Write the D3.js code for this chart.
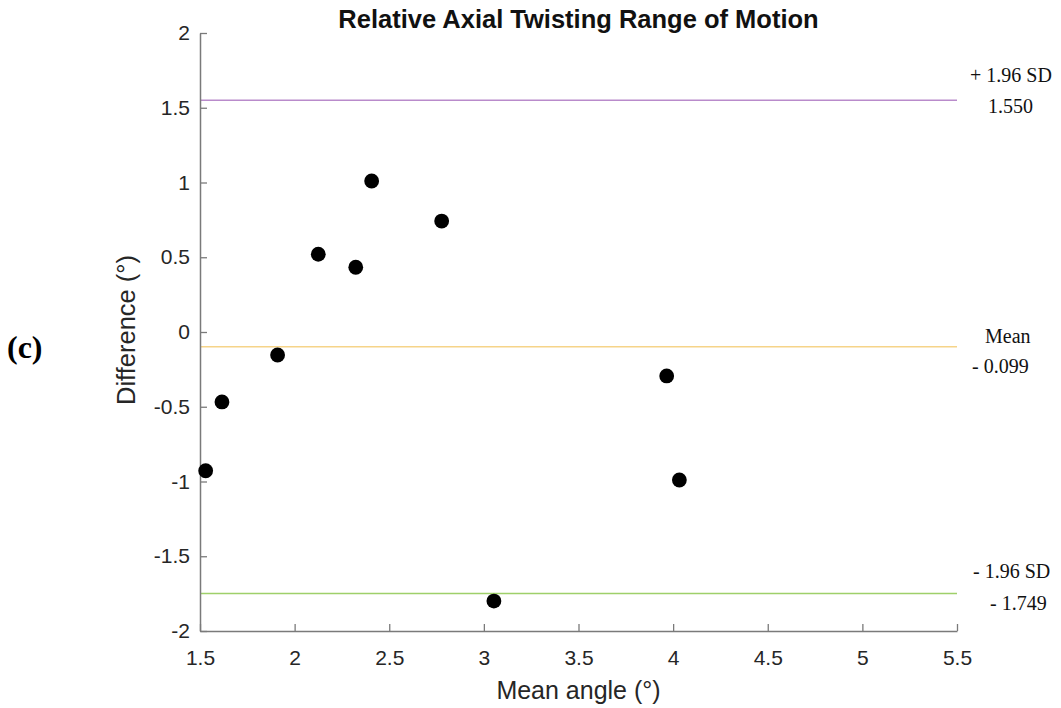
<!DOCTYPE html>
<html><head><meta charset="utf-8">
<script src="https://cdn.jsdelivr.net/npm/d3@7"></script>
<style>body{margin:0;background:#fff;}</style>
</head><body>
<svg id="c" width="1061" height="708"></svg>
<script>
const meanAngle = [1.530, 1.616, 1.910, 2.125, 2.323, 2.407, 2.777, 3.053, 3.966, 4.033];
const difference = [-0.928, -0.468, -0.154, 0.520, 0.433, 1.010, 0.742, -1.800, -0.294, -0.990];
const xTicks = [1.5, 2, 2.5, 3, 3.5, 4, 4.5, 5, 5.5];
const yTicks = [-2, -1.5, -1, -0.5, 0, 0.5, 1, 1.5, 2];
const refValues = [1.550, -0.099, -1.749];
const refLabel1 = ["+ 1.96 SD", "Mean", "- 1.96 SD"];
const refLabel2 = ["1.550", "- 0.099", "- 1.749"];
const refColors = ["#b98bcb", "#f6d489", "#9fd06a"];

// layout of the annotation text (pixel offsets, not data)
const lab1X = [970, 985, 973], lab1DY = [-18, -4, -15.5];
const lab2X = [988, 972, 990], lab2DY = [13, 26, 17];

const svg = d3.select("#c");
const L = 200, R = 957, T = 33, B = 631;
const x = d3.scaleLinear().domain([1.5, 5.5]).range([L, R]);
const y = d3.scaleLinear().domain([-2, 2]).range([B, T]);
const axisColor = "#7a7a7a", textColor = "#262626";
const sans = "Liberation Sans, Arial, sans-serif";
const serif = "Liberation Serif, Times New Roman, serif";

// reference lines
svg.selectAll("line.ref").data(refValues).join("line")
  .attr("x1", x(1.5)).attr("x2", x(5.5))
  .attr("y1", d => y(d)).attr("y2", d => y(d))
  .attr("stroke", (d, i) => refColors[i]).attr("stroke-width", 1.6);

// axes
const xAxis = svg.append("g").attr("transform", `translate(0,${B})`)
  .call(d3.axisBottom(x).tickValues(xTicks).tickSizeInner(-7).tickSizeOuter(0).tickPadding(19).tickFormat(d3.format("")));
const yAxis = svg.append("g").attr("transform", `translate(${L},0)`)
  .call(d3.axisLeft(y).tickValues(yTicks).tickSizeInner(-7).tickSizeOuter(0).tickPadding(10).tickFormat(d => d3.format("")(d).replace("\u2212", "-")));
[xAxis, yAxis].forEach(g => {
  g.select(".domain").attr("stroke", axisColor).attr("stroke-width", 1.5);
  g.selectAll(".tick line").attr("stroke", axisColor).attr("stroke-width", 1.3);
  g.selectAll(".tick text").attr("fill", textColor).style("font-family", sans).style("font-size", "21px");
});

// points
svg.selectAll("circle.pt").data(meanAngle).join("circle")
  .attr("cx", d => x(d)).attr("cy", (d, i) => y(difference[i]))
  .attr("r", 7.4).attr("fill", "#000");

// reference labels
svg.selectAll("text.l1").data(refLabel1).join("text")
  .attr("x", (d, i) => lab1X[i]).attr("y", (d, i) => y(refValues[i]) + lab1DY[i])
  .style("font-family", serif).style("font-size", "20px").attr("fill", "#111")
  .text(d => d);
svg.selectAll("text.l2").data(refLabel2).join("text")
  .attr("x", (d, i) => lab2X[i]).attr("y", (d, i) => y(refValues[i]) + lab2DY[i])
  .style("font-family", serif).style("font-size", "20px").attr("fill", "#111")
  .text(d => d);

// title and axis labels
svg.append("text").attr("x", (L + R) / 2).attr("y", 28).attr("text-anchor", "middle")
  .style("font-family", sans).style("font-size", "25.5px").style("font-weight", "bold").attr("fill", "#111")
  .text("Relative Axial Twisting Range of Motion");
svg.append("text").attr("x", (L + R) / 2).attr("y", 699).attr("text-anchor", "middle")
  .style("font-family", sans).style("font-size", "25px").attr("fill", textColor)
  .text("Mean angle (°)");
svg.append("text").attr("transform", `translate(135,330) rotate(-90)`).attr("text-anchor", "middle")
  .style("font-family", sans).style("font-size", "25.5px").attr("fill", textColor)
  .text("Difference (°)");
svg.append("text").attr("x", 7).attr("y", 358)
  .style("font-family", serif).style("font-size", "32px").style("font-weight", "bold").attr("fill", "#000")
  .text("(c)");
</script>
</body></html>
